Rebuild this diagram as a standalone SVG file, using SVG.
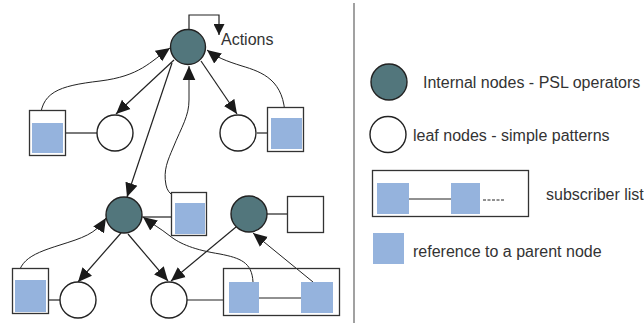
<svg xmlns="http://www.w3.org/2000/svg" width="644" height="325" viewBox="0 0 644 325">
  <style>
    .op { fill: #52767c; stroke: #222; stroke-width: 1.4; }
    .leaf { fill: #fff; stroke: #222; stroke-width: 1.4; }
    .box { fill: #fff; stroke: #333; stroke-width: 1.3; }
    .list { fill: none; stroke: #333; stroke-width: 1.3; }
    .ref { fill: #95b3dd; }
    .link { fill: none; stroke: #222; stroke-width: 1.2; }
    .thin { fill: none; stroke: #222; stroke-width: 1; }
    .conn { fill: none; stroke: #222; stroke-width: 1.2; }
    .txt { font-family: "Liberation Sans", Arial, sans-serif; font-size: 16px; fill: #333; }
  </style>
  <defs>
    <marker id="arrow" viewBox="0 0 10 10" refX="10" refY="5" markerWidth="11" markerHeight="11" markerUnits="userSpaceOnUse" orient="auto">
      <path d="M0,0 L10,5 L0,10 z" fill="#1a1a1a"/>
    </marker>
    <marker id="arrowBig" viewBox="0 0 10 10" refX="10" refY="5" markerWidth="14" markerHeight="14" markerUnits="userSpaceOnUse" orient="auto">
      <path d="M0,0.5 L10,5 L0,9.5 z" fill="#1a1a1a"/>
    </marker>
  </defs>

  <!-- connectors -->
  <g id="connectors">
    <!-- actions loop -->
    <path class="conn" d="M189,30 L189,15 L219,15 L219,35" marker-end="url(#arrow)"/>
    <!-- top operator to leaves -->
    <path class="conn" d="M174,60 L116,114" marker-end="url(#arrowBig)"/>
    <path class="conn" d="M201,61 L237,114" marker-end="url(#arrowBig)"/>
    <!-- subscriber references to top operator -->
    <path class="thin" d="M40,123 C40,92 58,86 100,81 C140,76 150,62 170,48" marker-end="url(#arrowBig)"/>
    <path class="thin" d="M285,118 C285,80 262,72 242,66 C226,61 216,57 207,50" marker-end="url(#arrowBig)"/>
    <!-- top operator to lower operator -->
    <path class="conn" d="M172,63 L127,197" marker-end="url(#arrowBig)"/>
    <!-- reference from lower box up to top operator -->
    <path class="thin" d="M188,203 C178,198 168,196 166,185 C163,170 168,160 173,148 C182,126 189,116 189,100 L189,66" marker-end="url(#arrowBig)"/>
    <!-- lower operator to its box -->
    <path class="link" d="M142,217 L171,217"/>
    <!-- lower operator to leaves -->
    <path class="conn" d="M121,233 L78,282" marker-end="url(#arrowBig)"/>
    <path class="conn" d="M128,234 L168,281" marker-end="url(#arrowBig)"/>
    <!-- second lower operator to middle leaf -->
    <path class="conn" d="M236,227 L171,281" marker-end="url(#arrowBig)"/>
    <path class="link" d="M267,214 L287,214"/>
    <!-- references to lower operators -->
    <path class="thin" d="M18,290 C15,262 28,255 60,245 C82,238 96,234 106,218" marker-end="url(#arrowBig)"/>
    <path class="thin" d="M253,282 C252,262 240,258 220,254 C195,250 180,244 170,236 C160,228 152,224 143,217" marker-end="url(#arrowBig)"/>
    <path class="thin" d="M313,282 L253,233" marker-end="url(#arrowBig)"/>
    <!-- leaf to subscriber links -->
    <path class="link" d="M66,133 L97,133"/>
    <path class="link" d="M257,133 L267,133"/>
    <path class="link" d="M49,300 L60,300"/>
    <path class="link" d="M187,300 L223,300"/>
    <path class="thin" d="M259,298 L301,298"/>
  </g>

  <!-- top level -->
  <g id="op-top"><circle class="op" cx="188" cy="47" r="17.5"/></g>
  <text class="txt" x="221" y="45">Actions</text>
  <g id="sub-top-left">
    <rect class="box" x="29.5" y="110.5" width="36" height="45"/>
    <rect class="ref" x="32" y="123" width="31" height="30"/>
  </g>
  <g id="leaf-top-left"><circle class="leaf" cx="115" cy="133" r="18"/></g>
  <g id="leaf-top-right"><circle class="leaf" cx="238" cy="133" r="18"/></g>
  <g id="sub-top-right">
    <rect class="box" x="267.5" y="107.5" width="36" height="44"/>
    <rect class="ref" x="271" y="118" width="31" height="31"/>
  </g>

  <!-- lower level -->
  <g id="op-lower-left"><circle class="op" cx="124" cy="215" r="18"/></g>
  <g id="sub-lower-left-op">
    <rect class="box" x="171.5" y="192.5" width="35" height="43"/>
    <rect class="ref" x="175" y="203" width="30" height="31"/>
  </g>
  <g id="op-lower-right"><circle class="op" cx="249" cy="214" r="18"/></g>
  <g id="sub-lower-right-op"><rect class="box" x="287.5" y="196.5" width="36" height="36"/></g>
  <g id="sub-bottom-left">
    <rect class="box" x="12.5" y="268.5" width="36" height="45"/>
    <rect class="ref" x="15" y="280" width="31" height="32"/>
  </g>
  <g id="leaf-bottom-left"><circle class="leaf" cx="78" cy="300" r="18"/></g>
  <g id="leaf-bottom-mid"><circle class="leaf" cx="169" cy="300" r="18"/></g>
  <g id="sub-bottom-list">
    <rect class="list" x="223.5" y="268.5" width="116" height="47"/>
    <rect class="ref" x="229" y="282" width="30" height="31"/>
    <rect class="ref" x="301" y="282" width="32" height="31"/>
  </g>

  <!-- divider -->
  <line x1="354" y1="3" x2="354" y2="323" stroke="#8a8a8a" stroke-width="1.6"/>

  <!-- legend -->
  <g id="legend-op">
    <circle class="op" cx="389" cy="82" r="18"/>
    <text class="txt" x="423" y="88">Internal nodes - PSL operators</text>
  </g>
  <g id="legend-leaf">
    <circle class="leaf" cx="388" cy="134.5" r="18"/>
    <text class="txt" x="413" y="141">leaf nodes - simple patterns</text>
  </g>
  <g id="legend-list">
    <rect class="box" x="372.5" y="170.5" width="156" height="46"/>
    <rect class="ref" x="377" y="183" width="32" height="31"/>
    <rect class="ref" x="451" y="183" width="29" height="31"/>
    <line class="thin" x1="409" y1="199" x2="451" y2="199"/>
    <line x1="483" y1="200" x2="505" y2="200" stroke="#222" stroke-width="1" stroke-dasharray="3,1.5"/>
    <text class="txt" x="546" y="200">subscriber list</text>
  </g>
  <g id="legend-ref">
    <rect class="ref" x="373" y="233" width="31" height="31"/>
    <text class="txt" x="413" y="257">reference to a parent node</text>
  </g>
</svg>
